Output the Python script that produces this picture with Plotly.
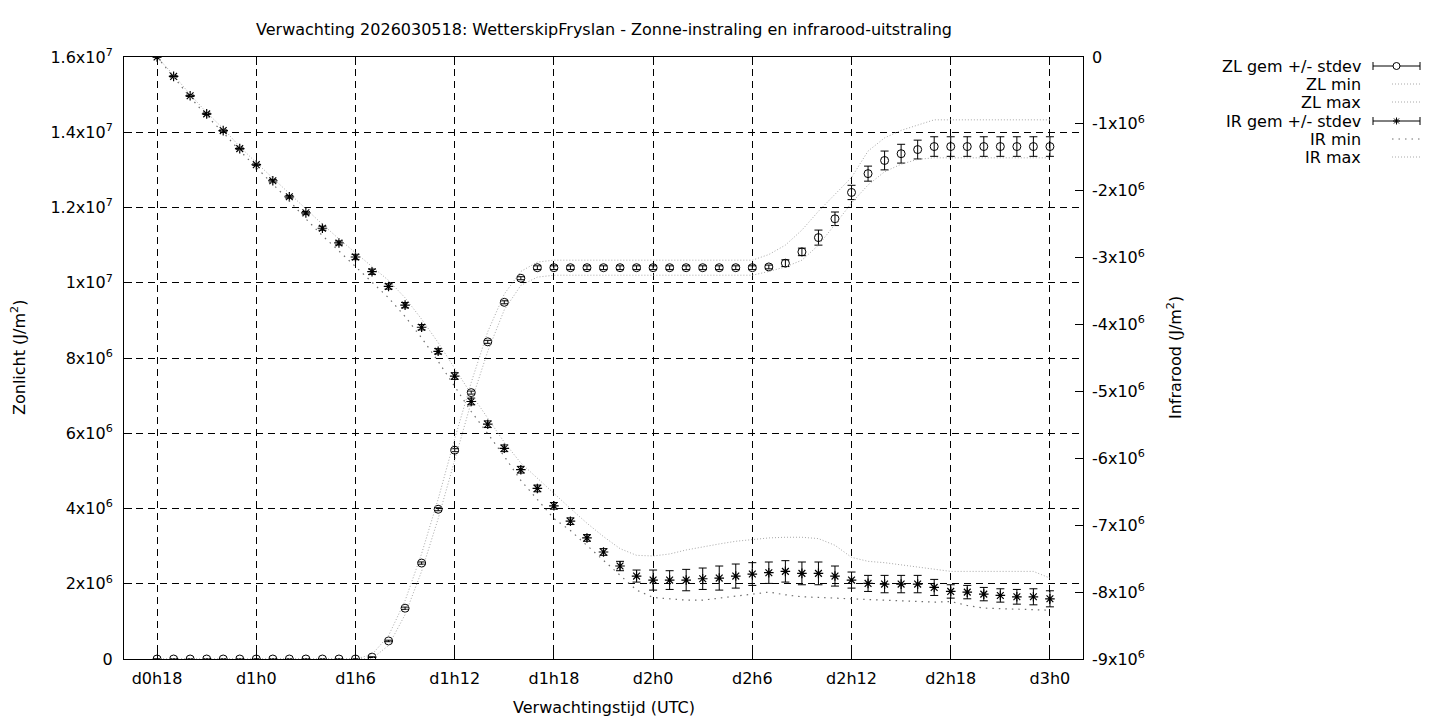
import plotly.graph_objects as go

# ---------------- data ----------------
hours = list(range(18, 73))  # forecast hour relative to d0h0
tick_hours = [18, 24, 30, 36, 42, 48, 54, 60, 66, 72]
tick_labels = ["d0h18", "d1h0", "d1h6", "d1h12", "d1h18", "d2h0", "d2h6", "d2h12", "d2h18", "d3h0"]

# Zonlicht (ZL), units 1e6 J/m2
zl_mean = [0, 0, 0, 0, 0, 0, 0, 0, 0, 0, 0, 0, 0,
           0.05, 0.48, 1.35, 2.55, 3.98, 5.55, 7.08, 8.43, 9.48, 10.12,
           10.40, 10.40, 10.40, 10.40, 10.40, 10.40, 10.40, 10.40, 10.40, 10.40, 10.40, 10.40, 10.40, 10.40, 10.42,
           10.52, 10.82, 11.20, 11.70, 12.40, 12.90, 13.25, 13.43, 13.54,
           13.62, 13.62, 13.62, 13.62, 13.62, 13.62, 13.62, 13.62]
zl_std = [0, 0, 0, 0, 0, 0, 0, 0, 0, 0, 0, 0, 0,
          0.01, 0.02, 0.03, 0.03, 0.04, 0.04, 0.04, 0.04, 0.04, 0.04,
          0.05, 0.05, 0.05, 0.05, 0.05, 0.05, 0.05, 0.05, 0.05, 0.05, 0.05, 0.05, 0.05, 0.05, 0.05,
          0.09, 0.10, 0.20, 0.18, 0.19, 0.20, 0.25, 0.25, 0.25,
          0.26, 0.26, 0.26, 0.26, 0.26, 0.26, 0.26, 0.26]
zl_min = [0, 0, 0, 0, 0, 0, 0, 0, 0, 0, 0, 0, 0,
          0.01, 0.36, 1.18, 2.33, 3.73, 5.28, 6.83, 8.18, 9.28, 9.93,
          10.15, 10.20, 10.20, 10.20, 10.20, 10.20, 10.20, 10.20, 10.20, 10.20, 10.20, 10.20, 10.20, 10.20, 10.30,
          10.42, 10.60, 11.00, 11.55, 12.12, 12.60, 12.95, 13.15, 13.28,
          13.32, 13.32, 13.32, 13.32, 13.32, 13.32, 13.32, 13.32]
zl_max = [0, 0, 0, 0, 0, 0, 0, 0, 0, 0, 0, 0, 0,
          0.12, 0.62, 1.55, 2.80, 4.25, 5.85, 7.35, 8.70, 9.70, 10.30,
          10.55, 10.60, 10.60, 10.60, 10.60, 10.60, 10.60, 10.60, 10.60, 10.60, 10.60, 10.60, 10.60, 10.60, 10.75,
          11.00, 11.40, 11.90, 12.35, 12.80, 13.50, 13.85, 14.05, 14.20,
          14.33, 14.33, 14.33, 14.33, 14.33, 14.33, 14.33, 14.33]

# Infrarood (IR), units 1e6 J/m2
ir_mean = [0, -0.29, -0.58, -0.85, -1.10, -1.37, -1.61, -1.85, -2.09, -2.33,
           -2.56, -2.78, -2.99, -3.21, -3.43, -3.71, -4.04, -4.40, -4.77, -5.15,
           -5.49, -5.85, -6.17, -6.45, -6.71, -6.94, -7.19, -7.40, -7.61, -7.76,
           -7.82, -7.82, -7.82, -7.80, -7.79, -7.76, -7.73, -7.71, -7.69, -7.72,
           -7.72, -7.76, -7.82, -7.87, -7.88, -7.88, -7.88, -7.93, -7.99, -8.00,
           -8.03, -8.05, -8.07, -8.07, -8.10]
ir_std = [0, 0.01, 0.01, 0.01, 0.01, 0.01, 0.01, 0.02, 0.02, 0.02,
          0.03, 0.03, 0.04, 0.04, 0.04, 0.04, 0.04, 0.04, 0.05, 0.05,
          0.05, 0.05, 0.05, 0.05, 0.05, 0.05, 0.05, 0.05, 0.07, 0.09,
          0.15, 0.14, 0.16, 0.16, 0.18, 0.18, 0.17, 0.16, 0.16, 0.17,
          0.17, 0.15, 0.12, 0.12, 0.13, 0.13, 0.13, 0.12, 0.10, 0.10,
          0.10, 0.10, 0.11, 0.12, 0.12]
ir_min = [0, -0.30, -0.60, -0.88, -1.13, -1.40, -1.65, -1.90, -2.15, -2.42,
          -2.67, -2.90, -3.13, -3.36, -3.60, -3.88, -4.20, -4.55, -4.93, -5.30,
          -5.63, -5.97, -6.33, -6.62, -6.90, -7.08, -7.30, -7.52, -7.75, -7.97,
          -8.08, -8.10, -8.12, -8.12, -8.09, -8.07, -8.03, -8.00, -8.04, -8.07,
          -8.08, -8.09, -8.11, -8.12, -8.13, -8.14, -8.15, -8.15, -8.14, -8.20,
          -8.24, -8.25, -8.26, -8.27, -8.27]
ir_max = [0, -0.27, -0.56, -0.83, -1.07, -1.34, -1.58, -1.81, -2.05, -2.28,
          -2.50, -2.72, -2.93, -3.13, -3.34, -3.60, -3.92, -4.27, -4.66, -5.04,
          -5.40, -5.76, -6.07, -6.30, -6.52, -6.75, -6.97, -7.17, -7.35, -7.45,
          -7.46, -7.43, -7.37, -7.32, -7.28, -7.24, -7.21, -7.19, -7.18, -7.18,
          -7.20, -7.30, -7.48, -7.54, -7.56, -7.59, -7.62, -7.66, -7.69, -7.69,
          -7.69, -7.69, -7.69, -7.69, -7.79]

zl_ticks = [0, 2e6, 4e6, 6e6, 8e6, 10e6, 12e6, 14e6, 16e6]
zl_ticktext = ["0", "2x10<sup>6</sup>", "4x10<sup>6</sup>", "6x10<sup>6</sup>", "8x10<sup>6</sup>",
               "1x10<sup>7</sup>", "1.2x10<sup>7</sup>", "1.4x10<sup>7</sup>", "1.6x10<sup>7</sup>"]
ir_ticks = [0, -1e6, -2e6, -3e6, -4e6, -5e6, -6e6, -7e6, -8e6, -9e6]
ir_ticktext = ["0"] + ["-%dx10<sup>6</sup>" % k for k in range(1, 10)]

legend_labels = ["ZL gem +/- stdev", "ZL min", "ZL max", "IR gem +/- stdev", "IR min", "IR max"]

M = 1e6
FONT = "DejaVu Sans, Liberation Sans, sans-serif"
FS = 16
ZL_GREY = "#a8a8a8"
IR_MIN_GREY = "#6e6e6e"
IR_MAX_GREY = "#a8a8a8"

fig = go.Figure()

fig.add_trace(go.Scatter(
    x=hours, y=[v * M for v in zl_mean], mode="markers", name=legend_labels[0],
    marker=dict(symbol="circle-open", size=8, color="black", line=dict(width=1, color="black")),
    error_y=dict(type="data", array=[v * M for v in zl_std], color="black", thickness=1, width=4),
))
fig.add_trace(go.Scatter(x=hours, y=[v * M for v in zl_min], mode="lines", name=legend_labels[1],
                         line=dict(color=ZL_GREY, width=1, dash="1px,2px")))
fig.add_trace(go.Scatter(x=hours, y=[v * M for v in zl_max], mode="lines", name=legend_labels[2],
                         line=dict(color=ZL_GREY, width=1, dash="1px,2px")))
fig.add_trace(go.Scatter(
    x=hours, y=[v * M for v in ir_mean], mode="markers", name=legend_labels[3], yaxis="y2",
    marker=dict(symbol="asterisk-open", size=8, color="black", line=dict(width=1.2, color="black")),
    error_y=dict(type="data", array=[v * M for v in ir_std], color="black", thickness=1, width=4),
))
fig.add_trace(go.Scatter(x=hours, y=[v * M for v in ir_min], mode="lines", name=legend_labels[4], yaxis="y2",
                         line=dict(color=IR_MIN_GREY, width=1.2, dash="1.5px,5px")))
fig.add_trace(go.Scatter(x=hours, y=[v * M for v in ir_max], mode="lines", name=legend_labels[5], yaxis="y2",
                         line=dict(color=IR_MAX_GREY, width=1, dash="1px,2px")))

# ---------------- layout ----------------
# page (screenshot) coordinates of the plot area; the page body adds an 8px offset
OFF = 8
L, R, T, B = 124, 1083, 57, 659
W, H = 1440 - OFF, 720 - OFF


def px(x):
    return (x - L) / (R - L)


def py(y):
    return (B - y) / (B - T)


annotations = [
    dict(text="Zonlicht (J/m<sup>2</sup>)", x=px(18), y=0.5, xref="paper", yref="paper",
         textangle=-90, showarrow=False, xanchor="center", yanchor="middle"),
    dict(text="Infrarood (J/m<sup>2</sup>)", x=px(1174), y=0.5, xref="paper", yref="paper",
         textangle=-90, showarrow=False, xanchor="center", yanchor="middle"),
    dict(text="Verwachtingstijd (UTC)", x=px(604), y=py(707), xref="paper", yref="paper",
         showarrow=False, xanchor="center", yanchor="middle"),
]

shapes = []
row_y = [66, 84, 102, 121, 139, 157]
sx0, sx1 = 1373, 1420
for lab, ry in zip(legend_labels, row_y):
    annotations.append(dict(text=lab, x=px(1363), y=py(ry), xref="paper", yref="paper",
                            showarrow=False, xanchor="right", yanchor="middle"))

# legend samples
for ry, kind in zip(row_y, ["zl", "zlmin", "zlmax", "ir", "irmin", "irmax"]):
    if kind in ("zl", "ir"):
        shapes.append(dict(type="line", xref="paper", yref="paper", x0=px(sx0), x1=px(sx1),
                           y0=py(ry), y1=py(ry), line=dict(color="black", width=1)))
        for ex in (sx0, sx1):
            shapes.append(dict(type="line", xref="paper", yref="paper", x0=px(ex), x1=px(ex),
                               y0=py(ry - 4), y1=py(ry + 4), line=dict(color="black", width=1)))
        cx = (sx0 + sx1) / 2
        if kind == "zl":
            shapes.append(dict(type="circle", xref="paper", yref="paper", x0=px(cx - 3.5), x1=px(cx + 3.5),
                               y0=py(ry - 3.5), y1=py(ry + 3.5), fillcolor="white",
                               line=dict(color="black", width=1)))
        else:
            r = 3.5
            for dx, dy in ((r, 0), (0, r), (r * 0.72, r * 0.72), (r * 0.72, -r * 0.72)):
                shapes.append(dict(type="line", xref="paper", yref="paper", x0=px(cx - dx), x1=px(cx + dx),
                                   y0=py(ry - dy), y1=py(ry + dy), line=dict(color="black", width=1)))
    else:
        col = IR_MIN_GREY if kind == "irmin" else ZL_GREY
        dash = "1.5px,5px" if kind == "irmin" else "1px,2px"
        shapes.append(dict(type="line", xref="paper", yref="paper", x0=px(sx0 + 19), x1=px(sx1),
                           y0=py(ry), y1=py(ry), line=dict(color=col, width=1, dash=dash)))

fig.update_layout(
    width=W, height=H,
    margin=dict(l=L - OFF, r=(W + OFF) - R, t=T - OFF, b=(H + OFF) - B, pad=0, autoexpand=False),
    paper_bgcolor="white", plot_bgcolor="white",
    font=dict(family=FONT, size=FS, color="black"),
    showlegend=False,
    title=dict(text="Verwachting 2026030518: WetterskipFryslan - Zonne-instraling en infrarood-uitstraling",
               x=px(604), xanchor="center", xref="paper", y=1 - (29 - OFF) / H, yanchor="middle",
               yref="container", font=dict(family=FONT, size=FS, color="black")),
    xaxis=dict(range=[16, 74], tickvals=tick_hours, ticktext=tick_labels,
               ticks="inside", ticklen=8, tickcolor="black", showline=True, linecolor="black", linewidth=1,
               mirror="ticks", showgrid=True, gridcolor="black", gridwidth=1, griddash="7px,5px",
               zeroline=False, ticklabelstandoff=5),
    yaxis=dict(range=[0, 1.6e7], tickvals=zl_ticks, ticktext=zl_ticktext,
               ticks="inside", ticklen=8, tickcolor="black", showline=True, linecolor="black", linewidth=1,
               mirror=True, showgrid=True, gridcolor="black", gridwidth=1, griddash="7px,5px",
               zeroline=False, ticklabelstandoff=7),
    yaxis2=dict(range=[-9e6, 0], tickvals=ir_ticks, ticktext=ir_ticktext, overlaying="y", side="right",
                ticks="inside", ticklen=8, tickcolor="black", showline=False, showgrid=False,
                zeroline=False, ticklabelstandoff=8),
    annotations=annotations,
    shapes=shapes,
)

fig.write_html("out.html")
